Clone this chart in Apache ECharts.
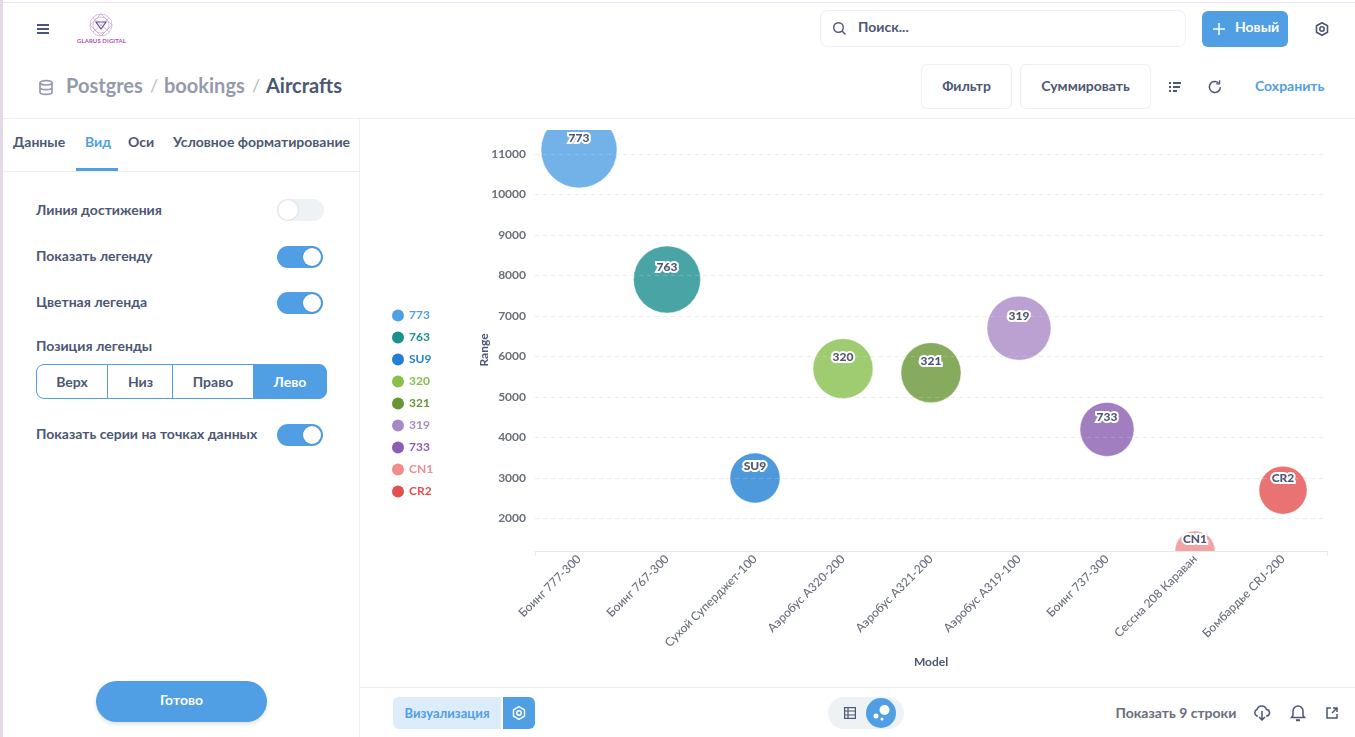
<!DOCTYPE html>
<html lang="ru"><head><meta charset="utf-8"><title>Aircrafts</title>
<script src="https://cdn.jsdelivr.net/npm/echarts@6/dist/echarts.min.js"></script>
<style>
html,body{margin:0;padding:0;width:1355px;height:737px;overflow:hidden;background:#fff;font-family:Lato,sans-serif;color:#4c5773}
.a{position:absolute;white-space:nowrap}
.b{font-weight:700}
.lbl{left:36px;font-size:14px;font-weight:700;line-height:18px}
.tab{top:133px;font-size:14px;font-weight:700;line-height:18px}
.tg{left:277px;width:47px;height:22px;border-radius:11px;background:#509ee3}
.tg i{position:absolute;right:2px;top:2px;width:18px;height:18px;border-radius:50%;background:#fff;box-shadow:0 0 2px #0003}
.btn{border:1px solid #f0f0f3;border-radius:6px;top:64px;height:43px;line-height:41px;text-align:center;font-size:14px;font-weight:700;box-sizing:content-box}
.seg{top:364px;height:35px;line-height:33px;text-align:center;font-size:14px;font-weight:700;box-sizing:border-box;border:1.5px solid #509ee3;background:#fff}
svg{position:absolute;overflow:visible}
</style></head><body>
<div class="a" style="left:0;top:2px;width:1355px;height:1px;background:#f0e2f4"></div>
<div class="a" style="left:0;top:0;width:3px;height:737px;background:#e2d8e8"></div>

<svg style="left:37px;top:24px" width="12" height="10" stroke="#4c5773" stroke-width="2"><path d="M0 1H12M0 5H12M0 9H12"/></svg>
<svg style="left:88px;top:13px" width="28" height="24" fill="none" stroke="#c9a0dc" stroke-width=".7"><circle cx="13" cy="12" r="11"/><circle cx="13" cy="12" r="8"/><path d="M2 12L13 1L24 12L13 23ZM5 5L21 19M21 5L5 19"/><path d="M8 9H18L13 16Z" stroke="#6b4a96" stroke-width="1.2"/></svg>
<div class="a b" style="left:77px;top:36px;font-size:6px;line-height:9px;color:#b44fc4;letter-spacing:.1px">GLARUS DIGITAL</div>

<div class="a" style="left:820px;top:10px;width:364px;height:35px;border:1px solid #f0f0f3;border-radius:8px"></div>
<svg style="left:833px;top:22px" width="13" height="13" fill="none" stroke="#4c5773" stroke-width="1.4"><circle cx="5.5" cy="5.5" r="4.8"/><path d="M9 9L12.5 12.5"/></svg>
<div class="a b" style="left:858px;top:18px;font-size:14px;line-height:18px">Поиск...</div>
<div class="a" style="left:1202px;top:11px;width:86px;height:36px;border-radius:6px;background:#509ee3"></div>
<svg style="left:1213px;top:23px" width="12" height="12" stroke="#fff" stroke-width="1.5"><path d="M6 0V12M0 6H12"/></svg>
<div class="a b" style="left:1235px;top:18px;font-size:14px;line-height:18px;color:#fff">Новый</div>
<svg style="left:1315px;top:22px" width="14" height="14" fill="none" stroke="#4c5773" stroke-width="1.6"><path d="M7 .7L12.5 3.8V10.2L7 13.3L1.5 10.2V3.8Z" stroke-linejoin="round"/><circle cx="7" cy="7" r="2.2"/></svg>

<svg style="left:39px;top:80px" width="14" height="15" fill="none" stroke="#949aab" stroke-width="1.7"><ellipse cx="7" cy="2.8" rx="6" ry="2.2"/><path d="M1 2.8V12.2C1 13.4 3.7 14.4 7 14.4S13 13.4 13 12.2V2.8M1 7.5C1 8.7 3.7 9.7 7 9.7S13 8.7 13 7.5"/></svg>
<div class="a b" style="left:66px;top:72px;font-size:20px;line-height:26px;color:#949aab">Postgres</div>
<div class="a" style="left:150px;top:72px;font-size:18px;line-height:26px;color:#b8bbc3">/</div>
<div class="a b" style="left:164px;top:72px;font-size:20px;line-height:26px;color:#949aab">bookings</div>
<div class="a" style="left:252px;top:72px;font-size:18px;line-height:26px;color:#b8bbc3">/</div>
<div class="a b" style="left:266px;top:72px;font-size:20px;line-height:26px">Aircrafts</div>

<div class="a btn" style="left:921px;width:89px">Фильтр</div>
<div class="a btn" style="left:1020px;width:129px">Суммировать</div>
<svg style="left:1169px;top:82px" width="12" height="10" stroke="#4c5773" stroke-width="1.8"><path d="M0 1H2M4 1H12M0 5H2M4 5H11M0 9H2M4 9H8"/></svg>
<svg style="left:1208px;top:80px" width="14" height="14" fill="none" stroke="#4c5773" stroke-width="1.5"><path d="M12.4 7A5.5 5.5 0 1 1 10.5 2.8"/><path d="M11.6 .3V3.8H8.2" stroke-width="1.3"/></svg>
<div class="a b" style="left:1255px;top:77px;font-size:14px;line-height:18px;color:#509ee3">Сохранить</div>

<div class="a" style="left:3px;top:118px;width:1352px;height:1px;background:#edf0f3"></div>
<div class="a" style="left:359px;top:118px;width:1px;height:619px;background:#edf0f3"></div>

<div class="a tab" style="left:13px">Данные</div>
<div class="a tab" style="left:85px;color:#509ee3">Вид</div>
<div class="a tab" style="left:128px">Оси</div>
<div class="a tab" style="left:173px">Условное форматирование</div>
<div class="a" style="left:3px;top:171px;width:356px;height:1px;background:#edf0f3"></div>
<div class="a" style="left:76px;top:168px;width:42px;height:3px;background:#509ee3"></div>

<div class="a lbl" style="top:201px">Линия достижения</div>
<div class="a tg" style="top:199px;background:#edf2f5"><i style="right:auto;left:1px;top:1px;width:20px;height:20px"></i></div>
<div class="a lbl" style="top:247px">Показать легенду</div>
<div class="a tg" style="top:246px;width:46px"><i></i></div>
<div class="a lbl" style="top:293px">Цветная легенда</div>
<div class="a tg" style="top:292px;width:46px"><i></i></div>
<div class="a lbl" style="top:337px">Позиция легенды</div>
<div class="a seg" style="left:36px;width:72px;border-radius:8px 0 0 8px">Верх</div>
<div class="a seg" style="left:108px;width:65px;border-left:0;border-right:0">Низ</div>
<div class="a seg" style="left:172px;width:82px">Право</div>
<div class="a seg" style="left:253px;width:74px;border-radius:0 8px 8px 0;background:#509ee3;color:#fff">Лево</div>
<div class="a lbl" style="top:425px">Показать серии на точках данных</div>
<div class="a tg" style="top:424px;width:46px"><i></i></div>
<div class="a b" style="left:96px;top:681px;width:171px;height:41px;line-height:38px;border-radius:21px;background:#509ee3;color:#fff;text-align:center;font-size:14px;box-shadow:0 2px 4px #0002">Готово</div>

<div id="chart" class="a" style="left:360px;top:119px;width:995px;height:568px"></div>

<div class="a" style="left:360px;top:687px;width:995px;height:1px;background:#edf0f3"></div>
<div class="a b" style="left:393px;top:697px;width:108px;height:32px;line-height:32px;text-align:center;border-radius:6px 0 0 6px;background:#ddecfa;color:#509ee3;font-size:13px">Визуализация</div>
<div class="a" style="left:503px;top:697px;width:32px;height:32px;border-radius:0 6px 6px 0;background:#509ee3"></div>
<svg style="left:512px;top:706px" width="14" height="14" fill="none" stroke="#fff" stroke-width="1.5"><path d="M7 .7L12.5 3.8V10.2L7 13.3L1.5 10.2V3.8Z" stroke-linejoin="round"/><circle cx="7" cy="7" r="2.2"/></svg>
<div class="a" style="left:828px;top:697px;width:76px;height:32px;border-radius:16px;background:#edf2f5"></div>
<svg style="left:844px;top:707px" width="12" height="12" fill="none" stroke="#4c5773" stroke-width="1.2"><rect x=".6" y=".6" width="10.8" height="10.8"/><path d="M.6 4H11.4M.6 8H11.4M4 .6V11.4"/></svg>
<div class="a" style="left:866px;top:698px;width:30px;height:30px;border-radius:50%;background:#509ee3"></div>
<svg style="left:872px;top:703px" width="20" height="20" fill="#fff"><circle cx="12.500" cy="7" r="5"/><circle cx="4" cy="13" r="2.500"/><circle cx="10" cy="16" r="1.500"/></svg>
<div class="a b" style="left:1115.500px;top:704px;font-size:14px;line-height:18px;color:#696e7b">Показать 9 строки</div>
<svg style="left:1253px;top:705px" width="18" height="16" fill="none" stroke="#4c5773" stroke-width="1.5"><path d="M5 11H4A3.500 3.500 0 0 1 4 4.500A5 5 0 0 1 13.500 4.500A3.300 3.300 0 0 1 14 11H13M9 6V15M6 12L9 15L12 12"/></svg>
<svg style="left:1291px;top:705px" width="14" height="16" fill="none" stroke="#4c5773" stroke-width="1.5"><path d="M.5 12.500H13.500L12 10.500V6A5 5 0 0 0 2 6V10.500Z"/><path d="M5 15.200H9" stroke-width="2"/></svg>
<svg style="left:1326px;top:707px" width="12" height="12" fill="none" stroke="#4c5773" stroke-width="1.5"><path d="M5 1H1V11H11V7M7 1H11V5M11 1L6 6"/></svg>

<script>
const categories = ['Боинг 777-300','Боинг 767-300','Сухой Суперджет-100','Аэробус А320-200','Аэробус А321-200','Аэробус А319-100','Боинг 737-300','Сессна 208 Караван','Бомбардье CRJ-200'];
const seriesNames = ['773','763','SU9','320','321','319','733','CN1','CR2'];
const rangeValues = [11100,7900,3000,5700,5600,6700,4200,1200,2700];
const bubbleValues = [76,67,50,60,60,64,54,40,48];
const palette = ['#509ee3','#1c8f8f','#227fd2','#88bf4d','#689636','#a989c5','#8a5eb0','#ef8c8c','#e35050'];
const axisText = '#696e7b', axisTitle = '#4c5773', lineColor = '#e8e9eb';

const yScale = {type:'value', min:1197, max:11592, splitNumber:10, minInterval:1000, maxInterval:1000};
const dashes = [4,4];

const chart = echarts.init(document.getElementById('chart'), null, {renderer:'canvas'});
chart.setOption({
  animation:false,
  textStyle:{fontFamily:'Lato'},
  legend:{
    orient:'vertical', left:27, top:184.500, itemWidth:12, itemHeight:12, itemGap:8,
    icon:'circle', selectedMode:false,
    textStyle:{fontFamily:'Lato',fontSize:12,fontWeight:700,lineHeight:14},
    data:seriesNames.map((n,i)=>({name:n,itemStyle:{opacity:1,color:palette[i]},textStyle:{color:palette[i]}}))
  },
  grid:{left:175,right:28,top:11,bottom:136},
  xAxis:{
    type:'category', data:categories, name:'Model', nameLocation:'middle', nameGap:97,
    nameTextStyle:{fontFamily:'Lato',fontSize:12,fontWeight:700,color:axisTitle},
    axisLine:{lineStyle:{color:lineColor,width:1}},
    axisTick:{show:true,length:5,interval:i=>i===0,lineStyle:{color:lineColor}},
    axisLabel:{rotate:45,interval:0,margin:6,padding:[3,0,0,0],fontFamily:'Lato',fontSize:12,fontWeight:500,color:axisText},
    splitLine:{show:false}
  },
  yAxis:[{
    ...yScale,
    name:'Range', nameLocation:'middle', nameGap:45, nameMoveOverlap:false,
    nameTextStyle:{fontFamily:'Lato',fontSize:12,fontWeight:700,color:axisTitle,padding:[0,19,0,0]},
    axisLine:{show:false}, axisTick:{show:false},
    axisLabel:{showMinLabel:false,showMaxLabel:false,margin:9,formatter:v=>String(v),fontFamily:'Lato',fontSize:12,fontWeight:700,color:axisText},
    splitLine:{show:true,showMinLine:false,showMaxLine:false,lineStyle:{color:'#e6e6e6',type:dashes,width:1}}
  },{
    ...yScale, z:5, position:'left',
    axisLine:{show:false}, axisTick:{show:false}, axisLabel:{show:false},
    splitLine:{show:true,showMinLine:false,showMaxLine:false,lineStyle:{color:'rgba(255,255,255,0.22)',type:dashes,width:1}}
  }],
  series:seriesNames.map((n,i)=>({
    type:'custom', name:n, clip:true, z:2, coordinateSystem:'cartesian2d',
    encode:{x:0,y:1},
    itemStyle:{color:palette[i]},
    data:[[categories[i],rangeValues[i],bubbleValues[i]]],
    renderItem:(params,api)=>{
      const p = api.coord([api.value(0),api.value(1)]);
      const r = api.value(2)/2;
      return {type:'group',children:[
        {type:'circle',shape:{cx:p[0],cy:p[1],r:r},style:{fill:palette[i],opacity:.8,stroke:'#fff',lineWidth:.5}},
        {type:'text',z2:10,style:{text:n,x:p[0],y:p[1]-12,align:'center',verticalAlign:'middle',font:'900 12px Lato',fill:'#4c5773',stroke:'#fff',lineWidth:4}}
      ]};
    }
  }))
});
</script>
</body></html>
